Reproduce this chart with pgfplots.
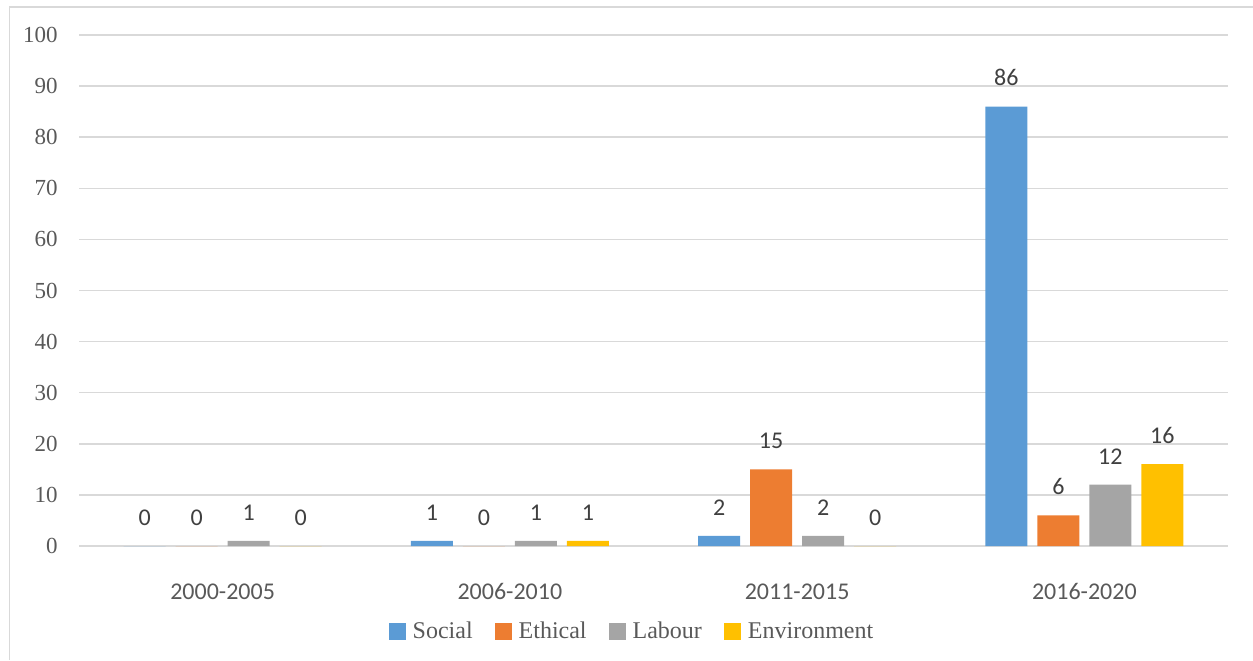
\documentclass[border=0pt]{standalone}
\usepackage{pgfplots}
\pgfplotsset{compat=1.18}
\usepackage{fontspec}
\setmainfont{Liberation Serif}
\newfontfamily\calibri{Carlito}
\definecolor{cSocial}{HTML}{5B9BD5}
\definecolor{cEthical}{HTML}{ED7D31}
\definecolor{cLabour}{HTML}{A5A5A5}
\definecolor{cEnv}{HTML}{FFC000}
\definecolor{gridc}{HTML}{D9D9D9}
\definecolor{txt}{HTML}{595959}
\definecolor{lbl}{HTML}{404040}
\begin{document}
\begin{tikzpicture}
\useasboundingbox (0,0) rectangle (626.5pt,330pt);
\draw[gridc, line width=0.75pt] (4.75pt,0) -- (4.75pt,326.6pt) -- (626.5pt,326.6pt);
\begin{axis}[
  at={(39.5pt,57pt)}, anchor=south west,
  scale only axis, width=574.5pt, height=255.5pt,
  ybar=5pt, bar width=21pt,
  xmin=-0.5, xmax=3.5, ymin=0, ymax=100,
  xtick={0,1,2,3},
  xticklabels={2000-2005,2006-2010,2011-2015,2016-2020},
  ytick={0,10,...,100},
  ymajorgrids, major grid style={gridc, line width=0.75pt},
  axis line style={draw=none}, tick style={draw=none},
  clip=false,
  /pgf/number format/assume math mode=true,
  yticklabel style={font=\fontsize{11.5}{13}\selectfont, text=txt, inner sep=0pt, anchor=east, xshift=-10.5pt},
  xticklabel style={font=\calibri\fontsize{12}{14}\selectfont, text=txt, inner sep=0pt, anchor=center, yshift=-18.5pt},
  nodes near coords,
  every node near coord/.append style={font=\calibri\fontsize{12}{14}\selectfont, text=lbl, inner sep=0pt, anchor=south, yshift=10pt},
  legend columns=4,
  legend image code/.code={\fill[#1] (0pt,-4.25pt) rectangle (8.5pt,4.25pt); \path (12pt,0pt);},
  legend style={draw=none, fill=none, at={(0.4804,-0.168)}, anchor=center,
    font=\fontsize{12}{14}\selectfont, text=txt,
    /tikz/every even column/.append style={column sep=11pt},
    nodes={inner sep=0pt}},
]
\addplot[fill=cSocial, draw=none] coordinates {(0,0) (1,1) (2,2) (3,86)};
\addplot[fill=cEthical, draw=none] coordinates {(0,0) (1,0) (2,15) (3,6)};
\addplot[fill=cLabour, draw=none] coordinates {(0,1) (1,1) (2,2) (3,12)};
\addplot[fill=cEnv, draw=none] coordinates {(0,0) (1,1) (2,0) (3,16)};
\legend{Social,Ethical,Labour,Environment}
\end{axis}
\end{tikzpicture}
\end{document}
